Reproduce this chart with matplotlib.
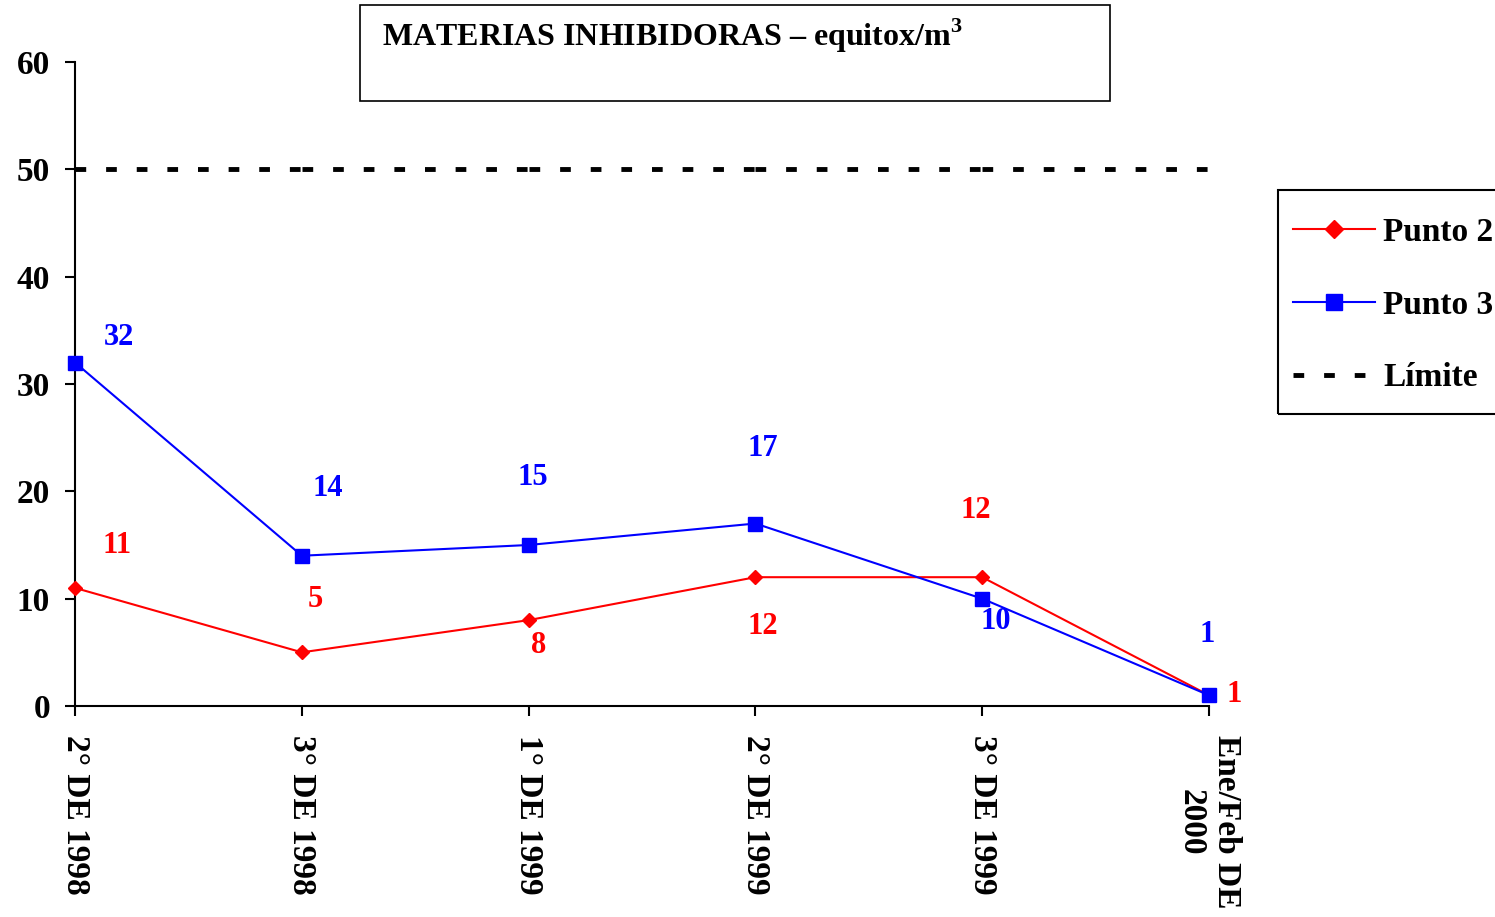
import matplotlib
matplotlib.use("Agg")
import matplotlib.pyplot as plt
from matplotlib.patches import Rectangle

plt.rcParams['font.family'] = ['Liberation Serif', 'DejaVu Serif']
plt.rcParams['font.weight'] = 'bold'
plt.rcParams['mathtext.fontset'] = 'custom'
plt.rcParams['mathtext.rm'] = 'Liberation Serif:bold'

# datos
periodos = ["2° DE 1998", "3° DE 1998", "1° DE 1999", "2° DE 1999", "3° DE 1999", "Ene/Feb DE\n2000"]
punto2 = [11, 5, 8, 12, 12, 1]
punto3 = [32, 14, 15, 17, 10, 1]
limite = 50

# desplazamiento de las etiquetas (pixeles)
off2 = [(42, 42), (13, 53), (10, -25), (7, -49), (-6, 67), (25, 1)]
off3 = [(44, 25), (26, 67), (4, 67), (7, 75), (14, -23), (-2, 61)]

fig = plt.figure(figsize=(14.95, 9.17), dpi=100)
ax = fig.add_axes([0.0502, 0.2301, 0.7585, 0.7023])

x = list(range(len(periodos)))
ax.plot(x, punto2, color="red", lw=1.5, marker="D", ms=7.5, label="Punto 2", clip_on=False, zorder=3)
ax.plot(x, punto3, color="blue", lw=1.5, marker="s", ms=9.5, label="Punto 3", clip_on=False, zorder=3)
# linea limite dibujada por tramos
for i in range(len(x) - 1):
    ax.plot([x[i], x[i + 1]], [limite, limite], color="black", lw=3.5,
            dashes=(2.2, 4.1), label="Límite" if i == 0 else None)

for xi, v, o in zip(x, punto2, off2):
    ax.annotate(str(v), (xi, v), xytext=o, textcoords="offset pixels",
                ha="center", va="center", color="red", fontsize=22, fontweight="bold")
for xi, v, o in zip(x, punto3, off3):
    ax.annotate(str(v), (xi, v), xytext=o, textcoords="offset pixels",
                ha="center", va="center", color="blue", fontsize=22, fontweight="bold")

ax.set_xlim(0, 5)
ax.set_ylim(0, 60)
ax.set_yticks(range(0, 61, 10))
ax.set_xticks(x)
ax.set_xticklabels(periodos, rotation=270, ha="center", va="top", multialignment="center")
for s in ["top", "right"]:
    ax.spines[s].set_visible(False)
for s in ["left", "bottom"]:
    ax.spines[s].set_linewidth(1.5)
ax.tick_params(axis="y", direction="out", length=7, width=1.5, pad=11, labelsize=24)
ax.tick_params(axis="x", direction="out", length=7, width=1.5, pad=14, labelsize=24)
for t in ax.get_xticklabels() + ax.get_yticklabels():
    t.set_fontweight("bold")

# leyenda sin marco, el marco va aparte
leg = fig.legend(loc="upper left", bbox_to_anchor=(0.865, 0.7635), fontsize=24,
                 frameon=False, handlelength=2.46, handletextpad=0.24,
                 labelspacing=1.25, borderpad=0, borderaxespad=0, markerscale=1.2)
for t in leg.get_texts():
    t.set_fontweight("bold")
fig.patches.append(Rectangle((0.8548, 0.5485), 0.2, 0.2443, transform=fig.transFigure,
                             fill=False, edgecolor="black", lw=1.5))

fig.patches.append(Rectangle((0.2408, 0.8899), 0.5017, 0.1047, transform=fig.transFigure,
                             fill=False, edgecolor="black", lw=1.2))
fig.text(0.2555, 0.9607, r"MATERIAS INHIBIDORAS – equitox/m$^{\mathrm{3}}$", fontsize=23,
         fontweight="bold", ha="left", va="center")

fig.savefig("out.png", dpi=100)
